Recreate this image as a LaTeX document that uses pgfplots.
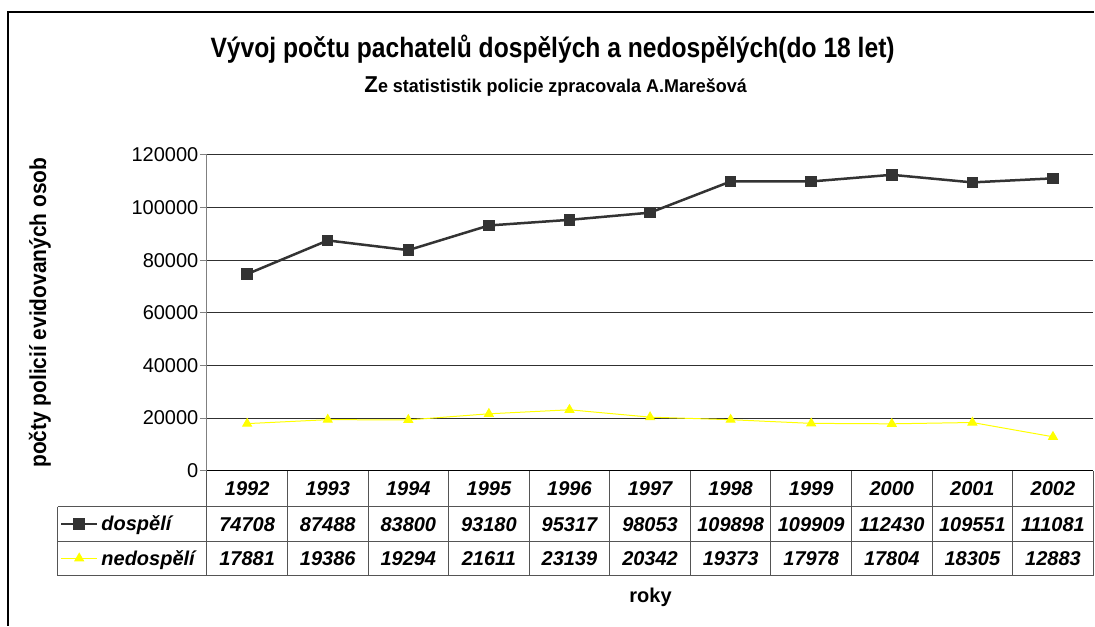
\documentclass[border=0pt]{standalone}
\usepackage{fontspec}
\setmainfont{Liberation Sans}
\usepackage{pgfplots}
\pgfplotsset{compat=1.18}
\definecolor{dark}{HTML}{333333}
\definecolor{yel}{HTML}{FFFF00}
\definecolor{gridc}{HTML}{303030}
\definecolor{tabc}{HTML}{555555}
\begin{document}
\begin{tikzpicture}[x=1pt,y=1pt]
\path (0,0) rectangle (1095,626);
\draw[line width=1.5pt] (8,0) -- (8,614) -- (1095,614);
\begin{axis}[at={(207pt,155pt)}, anchor=south west, scale only axis, width=887pt, height=316pt,
 xmin=-0.5, xmax=10.5, ymin=0, ymax=120000, ytick={0,20000,...,120000}, xtick=\empty,
 axis lines*=left, y axis line style={gray, line width=1pt}, x axis line style={black,line width=1pt},
 ymajorgrids, grid style={gridc, line width=0.9pt},
 tick align=outside, major tick length=7pt, ytick style={gray,line width=1pt},
 scaled y ticks=false,
 yticklabel style={font=\fontsize{20}{24}\selectfont, /pgf/number format/1000 sep={}, /pgf/number format/fixed, xshift=2pt},
 /pgf/number format/assume math mode=true,
 clip=false,
 legend style={at={(axis description cs:-0.1657,-0.1139)}, anchor=north west, draw=none, fill=none, inner sep=0pt, outer sep=0pt, row sep=0pt,
   font=\bfseries\itshape\fontsize{20}{24}\selectfont, nodes={inner xsep=3pt, inner ysep=0pt, minimum height=34.5pt}},
 legend cell align=left,
 legend image code/.code={\draw[mark repeat=2, mark phase=2, #1] plot coordinates {(0pt,0pt) (18pt,0pt) (36pt,0pt)};}
]
\addplot[dark, line width=2.5pt, mark=square*, mark size=4.5pt, mark options={solid}] coordinates {
(0,74708) (1,87488) (2,83800) (3,93180) (4,95317) (5,98053) (6,109898) (7,109909) (8,112430) (9,109551) (10,111081)};
\addplot[yel, line width=1pt, mark=triangle*, mark size=5pt, mark options={solid}] coordinates {
(0,17881) (1,19386) (2,19294) (3,21611) (4,23139) (5,20342) (6,19373) (7,17978) (8,17804) (9,18305) (10,12883)};
\legend{dospělí, nedospělí}
\end{axis}
\draw[tabc, line width=1pt] (58,119) -- (1094,119) (58,84)--(1094,84) (58,50)--(1094,50) (58,119)--(58,50);
\foreach \k in {0,...,11} \draw[tabc,line width=1pt] ({207+80.636*\k},155) -- ({207+80.636*\k},50);
\foreach \v [count=\i from 0] in {1992,1993,1994,1995,1996,1997,1998,1999,2000,2001,2002}
  \node[font=\bfseries\itshape\fontsize{20}{24}\selectfont] at ({207+80.636*(\i+0.5)},137) {\v};
\foreach \v [count=\i from 0] in {74708,87488,83800,93180,95317,98053,109898,109909,112430,109551,111081}
  \node[font=\bfseries\itshape\fontsize{20}{24}\selectfont] at ({207+80.636*(\i+0.5)},101.5) {\v};
\foreach \v [count=\i from 0] in {17881,19386,19294,21611,23139,20342,19373,17978,17804,18305,12883}
  \node[font=\bfseries\itshape\fontsize{20}{24}\selectfont] at ({207+80.636*(\i+0.5)},67) {\v};
\node[rotate=90, font=\bfseries\fontsize{22}{26}\selectfont] at (40,313) {\scalebox{0.95}[1.05]{počty policií evidovaných osob}};
\node[font=\bfseries\fontsize{20}{24}\selectfont] at (651,28) {roky};
\node[anchor=base, font=\bfseries\fontsize{28}{32}\selectfont] at (553,568) {\scalebox{0.88}[1]{Vývoj počtu pachatelů dospělých a nedospělých(do 18 let)}};
\node[anchor=base, font=\bfseries\fontsize{18.5}{22}\selectfont] at (556,533) {\scalebox{0.97}[1]{{\fontsize{23}{23}\selectfont Z}e statististik policie zpracovala A.Marešová}};
\end{tikzpicture}
\end{document}
